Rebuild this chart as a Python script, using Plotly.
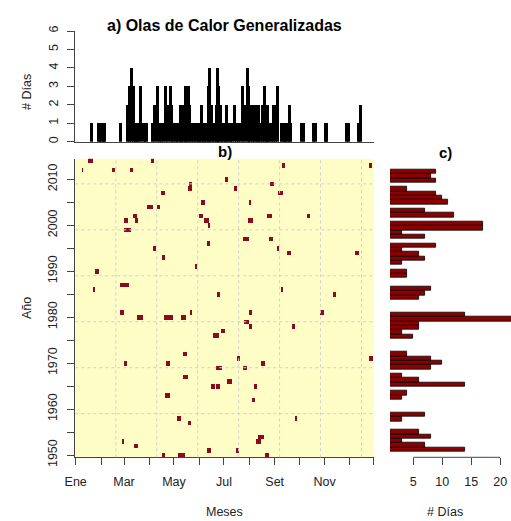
import numpy as np
import plotly.graph_objects as go

# ---------------- data ----------------
anios = list(range(1950, 2015))
dias = list(range(1, 366))

# heat-wave events (year, first day, last day)
ev_anio = [2014, 2014, 2013, 2013, 2012, 2012, 2012, 2010, 2009, 2009, 2008, 2008,
           2007, 2007, 2005, 2005, 2004, 2004, 2002, 2002, 2002, 2002, 2001, 2001,
           2001, 2001, 2000, 1999, 1997, 1997, 1996, 1995, 1995, 1994, 1994, 1993,
           1991, 1990, 1987, 1986, 1986, 1985, 1985, 1981, 1981, 1981, 1981, 1980,
           1980, 1980, 1979, 1978, 1978, 1977, 1976, 1972, 1971, 1971, 1970, 1970,
           1970, 1969, 1969, 1967, 1966, 1965, 1965, 1965, 1963, 1962, 1958, 1958,
           1957, 1954, 1953, 1953, 1952, 1951, 1951, 1950, 1950, 1950]
ev_ini = [17, 93, 253, 359, 9, 46, 68, 184, 140, 239, 138, 195,
          106, 248, 155, 213, 89, 101, 72, 152, 235, 284, 60, 74,
          158, 212, 163, 61, 206, 238, 162, 96, 247, 260, 343, 107,
          147, 25, 56, 23, 252, 174, 315, 55, 141, 213, 300, 76,
          109, 130, 207, 213, 266, 179, 169, 132, 198, 359, 60, 112,
          228, 173, 206, 133, 186, 167, 173, 219, 111, 217, 125, 269,
          138, 224, 58, 222, 73, 162, 197, 107, 126, 233]
ev_fin = [21, 96, 256, 362, 10, 48, 71, 187, 143, 242, 142, 198,
          110, 253, 158, 215, 95, 104, 75, 156, 240, 287, 64, 76,
          163, 217, 165, 68, 212, 241, 164, 98, 249, 263, 346, 109,
          149, 29, 65, 24, 254, 177, 318, 59, 143, 216, 304, 83,
          119, 135, 212, 216, 268, 183, 175, 136, 201, 363, 63, 115,
          231, 179, 210, 137, 191, 171, 177, 222, 116, 219, 129, 271,
          141, 230, 60, 227, 76, 166, 200, 109, 134, 237]

# panel a: number of years with a heat wave on each day of the year
hist_dia = [21, 29, 31, 33, 35, 37, 56, 65, 67, 70, 72, 74, 76, 78, 81, 84, 86, 88,
            95, 98, 101, 104, 106, 108, 111, 113, 117, 119, 121, 123, 125, 127,
            129, 131, 133, 135, 137, 139, 141, 143, 145, 147, 149, 151, 153, 155,
            157, 159, 161, 163, 165, 167, 169, 171, 173, 174, 176, 178, 180, 182,
            184, 186, 188, 190, 192, 195, 198, 200, 202, 205, 207, 211, 213, 215,
            217, 219, 221, 223, 225, 227, 229, 232, 234, 236, 238, 240, 243, 245,
            248, 252, 254, 256, 258, 260, 262, 264, 277, 279, 292, 294, 306, 308,
            332, 334, 347, 349]
hist_n = [1, 1, 1, 1, 1, 1, 1, 2, 3, 4, 3, 1, 1, 1, 3, 1, 1, 1,
          1, 2, 3, 1, 1, 1, 3, 2, 3, 2, 1, 1, 1, 1,
          2, 2, 2, 3, 2, 3, 2, 1, 1, 1, 1, 1, 1, 2,
          1, 1, 1, 3, 4, 2, 1, 1, 2, 4, 3, 2, 1, 1,
          1, 2, 1, 1, 1, 2, 1, 1, 1, 3, 2, 4, 3, 2,
          2, 2, 2, 2, 2, 1, 2, 3, 2, 2, 1, 1, 2, 2,
          3, 1, 1, 1, 1, 1, 2, 1, 1, 1, 1, 1, 1, 1,
          1, 1, 1, 2]

# panel c: heat-wave days per year (1950..2014)
dias_anio = [14, 7, 3, 8, 6, 0, 0, 3, 7, 0,
             0, 0, 3, 4, 0, 14, 6, 3, 0, 8,
             10, 8, 4, 0, 0, 0, 5, 3, 6, 6,
             22, 14, 0, 0, 0, 6, 7, 8, 0, 0,
             4, 4, 0, 3, 7, 6, 3, 9, 0, 7,
             3, 17, 17, 0, 12, 7, 0, 11, 10, 9,
             4, 0, 9, 8, 9]

mes_ticks = [1, 32, 60, 91, 121, 152, 182, 213, 244, 274, 305, 335, 365]
mes_labels = ['Ene', '', 'Mar', '', 'May', '', 'Jul', '', 'Set', '', 'Nov', '', '']
anio_ticks = list(range(1950, 2011, 5))
anio_labels = [str(a) if a % 10 == 0 else '' for a in anio_ticks]
hist_ticks = [0, 1, 2, 3, 4, 5, 6]
c_ticks = [5, 10, 15, 20]
grid_dias = [50, 100, 150, 200, 250, 300, 350]
grid_anios = [1959, 1969, 1979, 1989, 1999, 2009]

# ---------------- figure ----------------
W, H = 511, 521
def fx(p): return p / W
def fy(p): return 1 - p / H

z = np.zeros((len(anios), len(dias)))
for a, i0, i1 in zip(ev_anio, ev_ini, ev_fin):
    z[a - anios[0], i0 - 1:i1] = 1

FONT = "Liberation Sans, Arial, sans-serif"
TXT = "#222222"
AX = "#444444"
YEL = "#FFFDC6"
RED = "#8B0A1E"

fig = go.Figure()
fig.add_trace(go.Heatmap(z=z, x=dias, y=anios, zmin=0, zmax=1,
                         colorscale=[[0, YEL], [0.5, YEL], [0.5, RED], [1, RED]],
                         showscale=False, hoverinfo='skip', xaxis='x', yaxis='y'))
fig.add_trace(go.Bar(x=hist_dia, y=hist_n, width=3.5, marker=dict(color='black', line=dict(width=0)),
                     xaxis='x2', yaxis='y2', hoverinfo='skip'))
fig.add_trace(go.Bar(x=dias_anio, y=anios, orientation='h', width=1, base=0,
                     marker=dict(color='#8B0000', line=dict(color='black', width=0.8)),
                     xaxis='x3', yaxis='y3', hoverinfo='skip'))

main_x = [fx(75.3), fx(374.2)]
main_y = [fy(457.3), fy(158.6)]
tickfont = dict(family=FONT, size=12.5, color=TXT)

fig.update_layout(
    width=W, height=H, margin=dict(l=0, r=0, t=0, b=0, autoexpand=False),
    paper_bgcolor='white', plot_bgcolor='white', showlegend=False, bargap=0,
    font=dict(family=FONT, color=TXT),
    xaxis=dict(domain=main_x, range=[0.5, 365.5], anchor='y', tickvals=mes_ticks, ticktext=mes_labels,
               ticks='outside', ticklen=7, tickcolor=AX, showline=True, linecolor=AX, linewidth=1,
               showgrid=False, zeroline=False, tickfont=tickfont, automargin=False,
               ticklabelstandoff=6),
    yaxis=dict(domain=main_y, range=[1949.5, 2014.5], anchor='x', tickvals=anio_ticks, ticktext=anio_labels,
               tickangle=-90, ticks='outside', ticklen=7, tickcolor=AX, showline=True, linecolor=AX,
               linewidth=1, showgrid=False, zeroline=False, tickfont=tickfont, automargin=False,
               ticklabelstandoff=5),
    xaxis2=dict(domain=main_x, range=[0.5, 365.5], anchor='y2', showticklabels=False, ticks='',
                showline=True, linecolor=AX, linewidth=1, showgrid=False, zeroline=False,
                automargin=False),
    yaxis2=dict(domain=[fy(141.7), fy(31)], range=[0, 6], anchor='x2', tickvals=hist_ticks,
                tickangle=-90, ticks='outside', ticklen=7, tickcolor=AX, showline=True, linecolor=AX,
                linewidth=1, showgrid=False, zeroline=False, tickfont=tickfont, automargin=False,
                ticklabelstandoff=4),
    xaxis3=dict(domain=[fx(390), 1], range=[1, 21.84], anchor='y3', tickvals=c_ticks,
                ticks='outside', ticklen=7, tickcolor=AX, showline=False, showgrid=False,
                zeroline=False, tickfont=tickfont, automargin=False, ticklabelstandoff=6),
    yaxis3=dict(domain=main_y, range=[1948.2, 2017.0], anchor='x3', visible=False, automargin=False),
)

shapes = []
for d in grid_dias:
    shapes.append(dict(type='line', xref='x', yref='y domain', x0=d, x1=d, y0=0, y1=1,
                       line=dict(color='#D0D0D0', width=1, dash='dot'), layer='above'))
for a in grid_anios:
    shapes.append(dict(type='line', xref='x domain', yref='y', x0=0, x1=1, y0=a, y1=a,
                       line=dict(color='#D0D0D0', width=1, dash='dot'), layer='above'))
shapes.append(dict(type='line', xref='x3', yref='paper', x0=c_ticks[0], x1=c_ticks[-1],
                   y0=main_y[0], y1=main_y[0], line=dict(color=AX, width=1)))
fig.update_layout(shapes=shapes)

def ann(text, x, y, size=12.5, angle=0, bold=False):
    t = f"<b>{text}</b>" if bold else text
    fig.add_annotation(text=t, x=fx(x), y=fy(y), xref='paper', yref='paper', showarrow=False,
                       textangle=angle, xanchor='center', yanchor='middle',
                       font=dict(family=FONT, size=size, color='black' if bold else TXT))

ann("a) Olas de Calor Generalizadas", 224, 25, size=16, bold=True)
ann("b)", 225, 151, size=15, bold=True)
ann("c)", 445, 152, size=15, bold=True)
ann("# Días", 27, 92, angle=-90)
ann("Año", 27, 308, angle=-90)
ann("Meses", 224, 512)
ann("# Días", 445, 512)

fig.write_html("out.html", config={'displayModeBar': False},
               post_script="document.body.style.margin='0';document.body.style.overflow='hidden';")
